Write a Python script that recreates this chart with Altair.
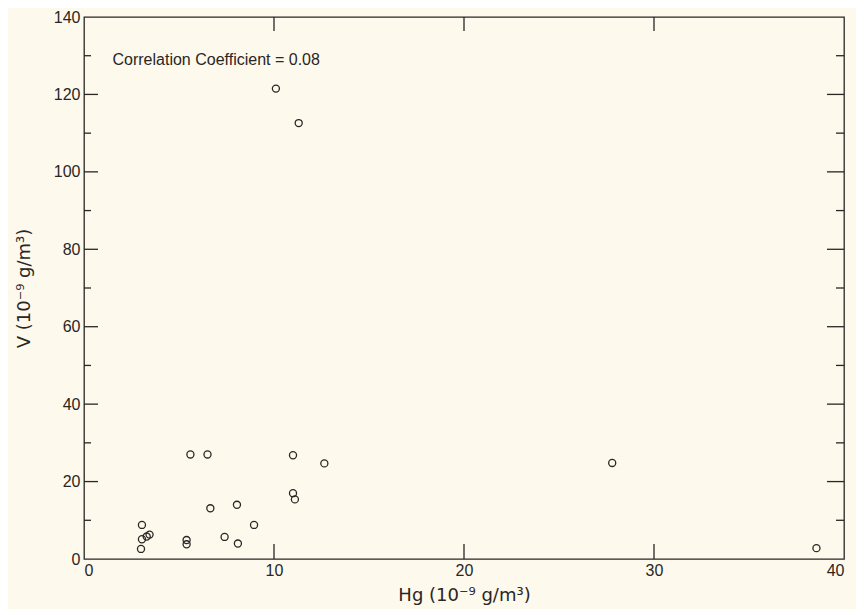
import altair as alt
import pandas as pd

# Data
hg = [3.0, 3.05, 3.05, 3.3, 3.45, 5.4, 5.4, 5.6, 6.5, 6.65, 7.4, 8.05, 8.1, 8.95,
      10.1, 11.0, 11.0, 11.1, 11.3, 12.65, 27.8, 38.55]
v = [2.6, 5.1, 8.8, 5.8, 6.3, 3.8, 4.9, 27.0, 27.0, 13.1, 5.7, 14.0, 4.0, 8.8,
     121.5, 26.8, 17.0, 15.4, 112.6, 24.7, 24.8, 2.8]

x_labels = [0, 10, 20, 30, 40]
y_labels = [0, 20, 40, 60, 80, 100, 120, 140]
y_major_ticks = [20, 40, 60, 80, 100, 120]
y_minor_ticks = [10, 30, 50, 70, 90, 110, 130]
x_inner_ticks = [10, 20, 30]

note_text = ["Correlation Coefficient = 0.08"]
note_x = [1.5]
note_y = [129]

W, H = 760, 542
FONT = "Liberation Sans"
TFONT = "DejaVu Sans"
INK = "#2a2624"

xs = alt.Scale(domain=[0, 40], nice=False, zero=False)
ys = alt.Scale(domain=[0, 140], nice=False, zero=False)
xax = alt.Axis(values=x_labels, title="Hg (10⁻⁹ g/m³)", labelPadding=3, titlePadding=8)
yax = alt.Axis(values=y_labels, title="V (10⁻⁹ g/m³)", labelPadding=4, titlePadding=20)

pts = pd.DataFrame({"hg": hg, "v": v})
ymaj = pd.DataFrame({"v": y_major_ticks})
ymin = pd.DataFrame({"v": y_minor_ticks})
xin = pd.DataFrame({"hg": x_inner_ticks})
note = pd.DataFrame({"hg": note_x, "v": note_y, "t": note_text})

points = alt.Chart(pts).mark_point(
    shape="circle", filled=False, size=50, strokeWidth=1.3, color=INK, opacity=1
).encode(
    x=alt.X("hg:Q", scale=xs, axis=xax),
    y=alt.Y("v:Q", scale=ys, axis=yax),
)

def yrule(df, x0, x1):
    return alt.Chart(df).mark_rule(color=INK, strokeWidth=1.3).encode(
        y=alt.Y("v:Q", scale=ys, axis=yax), x=alt.value(x0), x2=alt.value(x1)
    )

def xrule(df, y0, y1):
    return alt.Chart(df).mark_rule(color=INK, strokeWidth=1.3).encode(
        x=alt.X("hg:Q", scale=xs, axis=xax), y=alt.value(y0), y2=alt.value(y1)
    )

ticks = [
    yrule(ymaj, 0, 14), yrule(ymin, 0, 7),
    yrule(ymaj, W - 17, W), yrule(ymin, W - 8, W),
    xrule(xin, 0, 14), xrule(xin, H - 15, H),
]

label = alt.Chart(note).mark_text(
    align="left", baseline="middle", fontSize=16, font=FONT, color=INK
).encode(
    x=alt.X("hg:Q", scale=xs, axis=xax),
    y=alt.Y("v:Q", scale=ys, axis=yax),
    text="t:N",
)

chart = alt.layer(points, *ticks, label).properties(
    width=W, height=H,
    autosize=alt.AutoSizeParams(type="none"),
    padding={"left": 76, "top": 9, "right": 12, "bottom": 50},
    background="#fdf9ec",
).configure_view(
    stroke=INK, strokeWidth=1.3
).configure_axis(
    ticks=False, domain=False, grid=False,
    labelFont=FONT, labelFontSize=16, labelColor=INK,
    titleFont=TFONT, titleFontSize=18, titleFontWeight="normal", titleColor=INK,
)

chart.save("out.html", embed_options={"renderer": "svg", "actions": False})
